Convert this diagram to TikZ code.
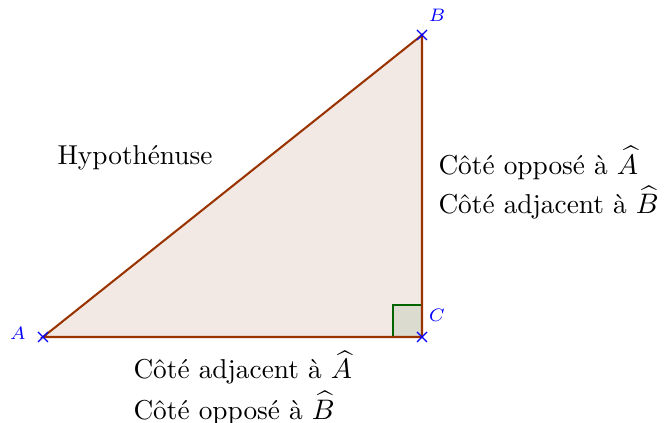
\documentclass[tikz,border=0pt]{standalone}
\usepackage{amsmath}
\usetikzlibrary{calc}
\begin{document}
\begin{tikzpicture}[x=0.388pt,y=-0.388pt,
  cross/.style={draw=blue,line width=0.5pt},
  ptlabel/.style={text=blue,font=\fontsize{7}{8}\selectfont},
  txt/.style={anchor=west,inner sep=0pt,font=\fontsize{10.6}{12}\selectfont}]
\definecolor{edge}{RGB}{153,51,0}
\definecolor{tri}{RGB}{242,233,228}
\definecolor{sq}{RGB}{219,219,207}
\definecolor{sqe}{RGB}{0,100,0}
\useasboundingbox (0,0) rectangle (665,423);
\coordinate (A) at (43,337);
\coordinate (B) at (422,35);
\coordinate (C) at (422,337);
\fill[tri] (A) -- (B) -- (C) -- cycle;
\filldraw[fill=sq,draw=sqe,line width=0.8pt] (C) -- ++(-29,0) -- ++(0,-32) -- ++(29,0);
\draw[draw=edge,line width=0.8pt] (A) -- (B) -- (C) -- cycle;
\foreach \p in {A,B,C}{
  \draw[cross] ($(\p)+(-5,-5)$) -- ($(\p)+(5,5)$);
  \draw[cross] ($(\p)+(-5,5)$) -- ($(\p)+(5,-5)$);
}
\node[ptlabel] (la) at (18,333) {$A$};
\node[ptlabel] (lb) at (437,15) {$B$};
\node[ptlabel] (lc) at (437,315) {$C$};
\node[txt,anchor=center] (h) at (135,158) {Hypoth\'enuse};
\node[txt] (r1) at (438,163) {C\^ot\'e oppos\'e \`a $\widehat{A}$};
\node[txt] (r2) at (438,203) {C\^ot\'e adjacent \`a $\widehat{B}$};
\node[txt] (b1) at (133,368) {C\^ot\'e adjacent \`a $\widehat{A}$};
\node[txt] (b2) at (133,408) {C\^ot\'e oppos\'e \`a $\widehat{B}$};
\end{tikzpicture}
\end{document}
